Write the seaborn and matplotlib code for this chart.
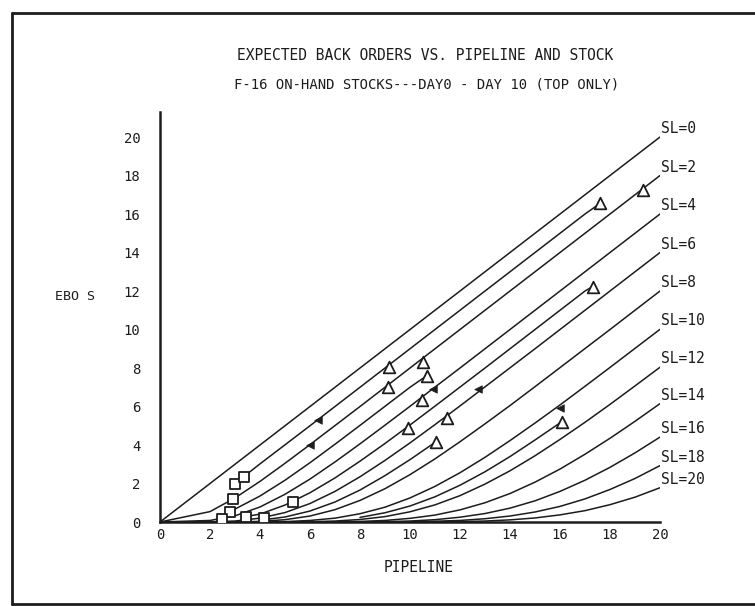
import numpy as np
import pandas as pd
import matplotlib
matplotlib.use("Agg")
import matplotlib.pyplot as plt
from matplotlib.lines import Line2D
import seaborn as sns

# ---------------- data ----------------
PIPELINE = [0, 2, 3, 4, 5, 6, 7, 8, 9, 10, 11, 12, 13, 14, 15, 16, 17, 18, 19, 20]
SL_LEVELS = [0, 2, 4, 6, 8, 10, 12, 14, 16, 18, 20]

EBO_SL0 = [0, 2, 3, 4, 5, 6, 7, 8, 9, 10, 11, 12, 13, 14, 15, 16, 17, 18, 19, 20]
EBO_SL2 = [0, 0.54, 1.25, 2.11, 3.05, 4.02, 5.01, 6.0, 7.0, 8.0, 9.0, 10.0, 11.0, 12.0, 13.0, 14.0, 15.0, 16.0, 17.0, 18.0]
EBO_SL4 = [0, 0.08, 0.32, 0.78, 1.44, 2.23, 3.12, 4.06, 5.03, 6.01, 7.01, 8.0, 9.0, 10.0, 11.0, 12.0, 13.0, 14.0, 15.0, 16.0]
EBO_SL6 = [0, 0.01, 0.05, 0.20, 0.49, 0.96, 1.59, 2.35, 3.20, 4.11, 5.06, 6.03, 7.02, 8.01, 9.0, 10.0, 11.0, 12.0, 13.0, 14.0]
EBO_SL8 = [0, 0, 0.005, 0.03, 0.12, 0.31, 0.64, 1.12, 1.73, 2.46, 3.28, 4.17, 5.10, 6.05, 7.03, 8.02, 9.01, 10.0, 11.0, 12.0]
EBO_SL10 = [0, 0, 0, 0.004, 0.02, 0.08, 0.20, 0.43, 0.77, 1.25, 1.85, 2.56, 3.36, 4.23, 5.14, 6.08, 7.05, 8.03, 9.02, 10.01]
EBO_SL12 = [0, 0, 0, 0, 0.003, 0.015, 0.05, 0.13, 0.28, 0.53, 0.89, 1.37, 1.97, 2.66, 3.44, 4.29, 5.18, 6.11, 7.07, 8.04]
EBO_SL14 = [0, 0, 0, 0, 0, 0.002, 0.01, 0.03, 0.08, 0.19, 0.36, 0.63, 1.00, 1.48, 2.07, 2.75, 3.52, 4.35, 5.23, 6.15]
EBO_SL16 = [0, 0, 0, 0, 0, 0, 0.002, 0.006, 0.02, 0.05, 0.12, 0.25, 0.44, 0.72, 1.10, 1.59, 2.17, 2.84, 3.59, 4.41]
EBO_SL18 = [0, 0, 0, 0, 0, 0, 0, 0.001, 0.004, 0.01, 0.04, 0.08, 0.17, 0.31, 0.52, 0.81, 1.20, 1.69, 2.26, 2.93]
EBO_SL20 = [0, 0, 0, 0, 0, 0, 0, 0, 0.001, 0.003, 0.01, 0.02, 0.05, 0.11, 0.21, 0.37, 0.59, 0.90, 1.29, 1.78]

# item trajectories (day 0 -> day 10) along their stock-level curves
TRAJ_S1_X = [3.0, 4, 5, 6, 7, 8, 9, 10, 11, 12, 13, 14, 15, 16, 17, 17.6]
TRAJ_S1_Y = [2.0, 3.02, 4.01, 5.0, 6.0, 7.0, 8.0, 9.0, 10.0, 11.0, 12.0, 13.0, 14.0, 15.0, 16.0, 16.55]
TRAJ_S3_X = [2.8, 3, 4, 5, 6, 7, 8, 9, 10, 10.67]
TRAJ_S3_Y = [0.55, 0.67, 1.35, 2.17, 3.08, 4.04, 5.02, 6.01, 7.0, 7.6]
TRAJ_S5_X = [3.43, 4, 5, 6, 7, 8, 9, 10, 11, 12, 13, 14, 15, 16, 17, 17.33]
TRAJ_S5_Y = [0.28, 0.41, 0.88, 1.52, 2.29, 3.16, 4.08, 5.04, 6.02, 7.01, 8.0, 9.0, 10.0, 11.0, 12.0, 12.25]
TRAJ_S7_X = [4.17, 5, 6, 7, 8, 9, 10, 11.04]
TRAJ_S7_Y = [0.12, 0.26, 0.57, 1.04, 1.66, 2.41, 3.24, 4.17]
TRAJ_S11_X = [8, 9, 10, 11, 12, 13, 14, 15, 16.07]
TRAJ_S11_Y = [0.24, 0.48, 0.83, 1.31, 1.91, 2.61, 3.40, 4.26, 5.21]

TRI_X = [9.17, 10.5, 10.67, 9.13, 10.47, 9.93, 11.47, 11.04, 16.07, 17.33, 17.6, 19.33]
TRI_Y = [8.07, 8.33, 7.58, 7.03, 6.34, 4.87, 5.39, 4.17, 5.21, 12.22, 16.55, 17.25]
SQ_X = [3.0, 3.37, 2.9, 2.8, 2.47, 3.43, 4.17, 5.3]
SQ_Y = [2.0, 2.35, 1.18, 0.52, 0.14, 0.28, 0.2, 1.03]
MARK_X = [6.33, 6.0, 10.9, 12.7, 16.0]
MARK_Y = [5.3, 4.0, 6.9, 6.9, 5.9]

X_TICKS = [0, 2, 4, 6, 8, 10, 12, 14, 16, 18, 20]
Y_TICKS = [0, 2, 4, 6, 8, 10, 12, 14, 16, 18, 20]

TITLE1 = "EXPECTED BACK ORDERS VS. PIPELINE AND STOCK"
TITLE2 = "F-16 ON-HAND STOCKS---DAY0 - DAY 10 (TOP ONLY)"
XLABEL = "PIPELINE"
YLABEL = "EBO S"

# ---------------- figure ----------------
sns.set_style("white")
MONO = "DejaVu Sans Mono"
plt.rcParams["font.family"] = [MONO]
INK = "#1c1c1c"

W, H = 755, 606
fig = plt.figure(figsize=(W / 100, H / 100), dpi=100)
ax = fig.add_axes([160 / W, 1 - 522 / H, 500 / W, (522 - 112) / H])

curves = [EBO_SL0, EBO_SL2, EBO_SL4, EBO_SL6, EBO_SL8, EBO_SL10,
          EBO_SL12, EBO_SL14, EBO_SL16, EBO_SL18, EBO_SL20]
rows = []
for sl, vals in zip(SL_LEVELS, curves):
    for p, v in zip(PIPELINE, vals):
        rows.append({"pipeline": p, "ebo": v, "sl": sl})
df = pd.DataFrame(rows)

sns.lineplot(data=df, x="pipeline", y="ebo", hue="sl", palette=[INK] * len(SL_LEVELS),
             legend=False, linewidth=1.1, estimator=None, sort=False, ax=ax)

for tx, ty in [(TRAJ_S1_X, TRAJ_S1_Y), (TRAJ_S3_X, TRAJ_S3_Y), (TRAJ_S5_X, TRAJ_S5_Y),
               (TRAJ_S7_X, TRAJ_S7_Y), (TRAJ_S11_X, TRAJ_S11_Y)]:
    sns.lineplot(x=tx, y=ty, color=INK, linewidth=1.1, estimator=None, sort=False, ax=ax)

n0 = len(ax.collections)
sns.scatterplot(x=TRI_X, y=TRI_Y, marker="^", s=70, ax=ax, zorder=5)
sns.scatterplot(x=SQ_X, y=SQ_Y, marker="s", s=45, ax=ax, zorder=5)
for c in ax.collections[n0:]:
    c.set_facecolor("white")
    c.set_edgecolor(INK)
    c.set_linewidth(1.3)
sns.scatterplot(x=MARK_X, y=MARK_Y, marker="<", s=30, color=INK, edgecolor=INK, ax=ax, zorder=5)

# SL labels at the right ends of the curves
for sl, vals in zip(SL_LEVELS, curves):
    ax.annotate(f"SL={sl}", xy=(PIPELINE[-1], vals[-1]), xytext=(1, 6),
                textcoords="offset points", ha="left", va="center",
                fontsize=10.5, family=MONO, color=INK, annotation_clip=False)

ax.set_xlim(0, 20)
ax.set_ylim(0, 21.3)
ax.set_xticks(X_TICKS)
ax.set_yticks(Y_TICKS)
ax.set_xticklabels([str(t) for t in X_TICKS])
ax.set_yticklabels([str(t) for t in Y_TICKS])
ax.set_yticks([t for t in range(1, 22, 2)], minor=True)
ax.tick_params(axis="both", which="both", direction="in", color=INK, width=1.2,
               labelsize=10, labelcolor=INK)
ax.tick_params(axis="x", which="major", length=4, pad=4)
ax.tick_params(axis="y", which="major", length=4, pad=14)
ax.tick_params(axis="y", which="minor", length=4)
ax.set_xlabel("")
ax.set_ylabel("")
for side in ["top", "right"]:
    ax.spines[side].set_visible(False)
for side in ["left", "bottom"]:
    ax.spines[side].set_color(INK)
    ax.spines[side].set_linewidth(1.8)
ax.patch.set_alpha(0)

fig.text(425 / W, 1 - 55 / H, TITLE1, ha="center", va="center", fontsize=10.5, family=MONO, color=INK)
fig.text(427 / W, 1 - 85 / H, TITLE2, ha="center", va="center", fontsize=10, family=MONO, color=INK)
fig.text(419 / W, 1 - 567 / H, XLABEL, ha="center", va="center", fontsize=10.5, family=MONO, color=INK)
fig.text(75 / W, 1 - 296 / H, YLABEL, ha="center", va="center", fontsize=9.5, family=MONO, color=INK)

# page border
for xs, ys in [([12, 755], [13, 13]), ([12, 12], [13, 604]), ([12, 755], [604, 604])]:
    fig.add_artist(Line2D([x / W for x in xs], [1 - y / H for y in ys],
                          transform=fig.transFigure, color=INK, linewidth=2))

fig.savefig("out.png", dpi=100)
